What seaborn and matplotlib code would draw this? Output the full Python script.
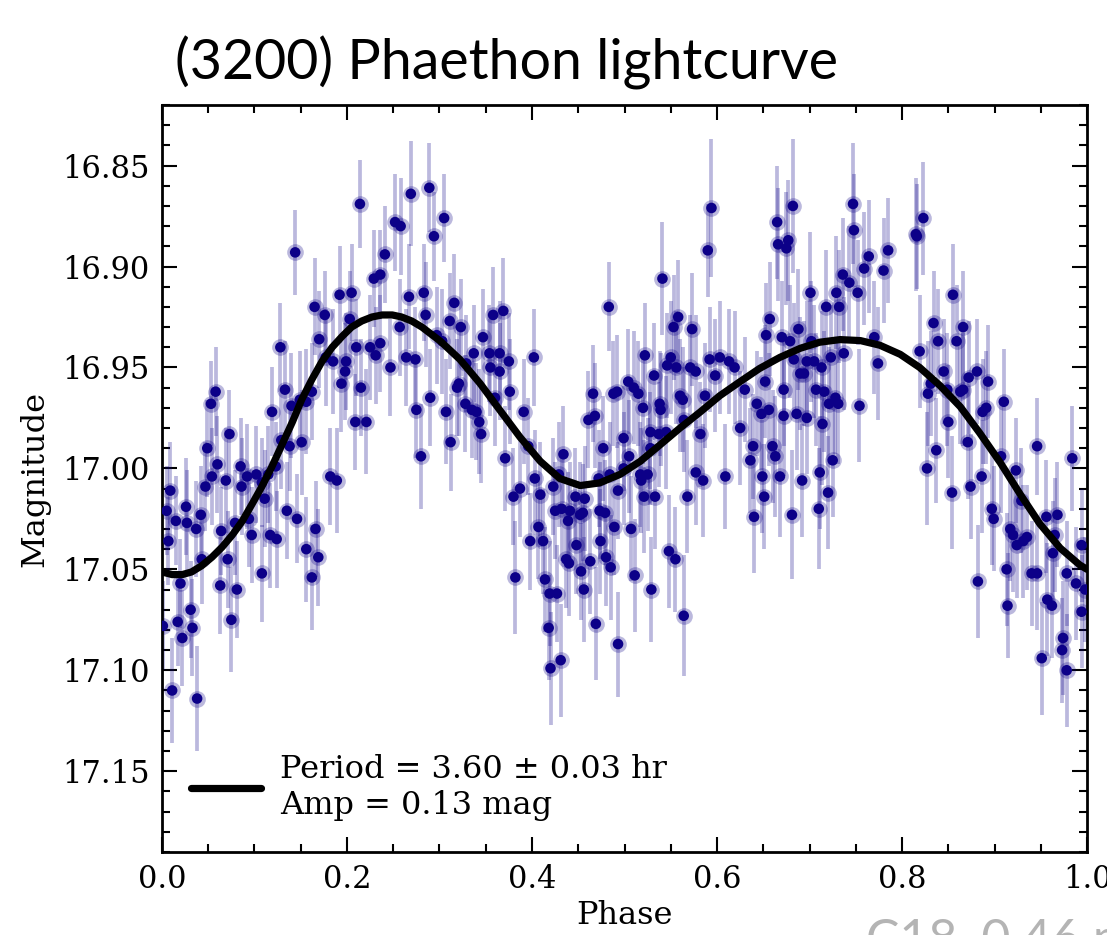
import numpy as np
import pandas as pd
import matplotlib
matplotlib.use("Agg")
import matplotlib.pyplot as plt
from matplotlib.ticker import MultipleLocator, FormatStrFormatter
from matplotlib.lines import Line2D
import seaborn as sns

# ---- observations: (phase, magnitude, error) ----
obs_a = [(0.144,16.893,0.021),(0.165,16.920,0.024),(0.170,16.936,0.024),(0.128,16.940,0.022),(0.133,16.961,0.024),(0.119,16.972,0.022),(0.140,16.969,0.026),(0.149,16.966,0.024),(0.156,16.967,0.026),(0.162,16.962,0.024),(0.058,16.962,0.022),(0.053,16.968,0.021),(0.073,16.983,0.022),(0.049,16.990,0.024),(0.129,16.986,0.024),(0.138,16.989,0.022),(0.151,16.987,0.026),(0.060,16.998,0.024),(0.054,17.004,0.024),(0.047,17.009,0.022),(0.069,17.006,0.026),(0.085,16.999,0.024),(0.086,17.009,0.024),(0.092,17.004,0.026),(0.102,17.003,0.024),(0.108,17.007,0.022),(0.115,17.003,0.024),(0.123,16.999,0.022),(0.111,17.015,0.024),(0.009,17.011,0.024),(0.005,17.021,0.022),(0.026,17.019,0.024),(0.015,17.026,0.022),(0.027,17.027,0.026),(0.037,17.030,0.024),(0.042,17.023,0.024),(0.007,17.036,0.022),(0.079,17.027,0.026),(0.094,17.025,0.024),(0.097,17.033,0.024),(0.064,17.031,0.022),(0.117,17.033,0.026),(0.124,17.035,0.024),(0.135,17.021,0.024),(0.146,17.025,0.022),(0.166,17.030,0.024),(0.156,17.040,0.026),(0.169,17.044,0.024),(0.043,17.045,0.022),(0.071,17.045,0.024),(0.108,17.052,0.024),(0.162,17.054,0.026),(0.020,17.057,0.022),(0.063,17.058,0.024),(0.081,17.060,0.024),(0.031,17.070,0.024),(0.017,17.076,0.022),(0.033,17.079,0.024),(0.022,17.084,0.024),(0.001,17.078,0.022),(0.075,17.075,0.026),(0.011,17.110,0.026),(0.038,17.114,0.026)]
obs_b = [(0.214,16.869,0.022),(0.269,16.864,0.026),(0.289,16.861,0.022),(0.305,16.876,0.022),(0.252,16.878,0.024),(0.258,16.880,0.024),(0.294,16.885,0.022),(0.241,16.894,0.024),(0.229,16.906,0.024),(0.236,16.904,0.022),(0.192,16.914,0.024),(0.205,16.913,0.024),(0.267,16.915,0.026),(0.283,16.913,0.024),(0.316,16.918,0.024),(0.176,16.924,0.022),(0.203,16.926,0.024),(0.285,16.924,0.026),(0.311,16.927,0.024),(0.323,16.930,0.024),(0.257,16.930,0.024),(0.210,16.940,0.024),(0.225,16.940,0.026),(0.236,16.938,0.024),(0.231,16.944,0.024),(0.177,16.945,0.024),(0.185,16.947,0.026),(0.199,16.947,0.024),(0.198,16.952,0.024),(0.264,16.945,0.024),(0.274,16.946,0.026),(0.247,16.950,0.024),(0.297,16.934,0.024),(0.303,16.937,0.026),(0.329,16.948,0.024),(0.194,16.958,0.024),(0.215,16.960,0.024),(0.319,16.960,0.024),(0.321,16.958,0.026),(0.290,16.965,0.024),(0.328,16.968,0.024),(0.275,16.971,0.024),(0.307,16.972,0.026),(0.209,16.977,0.024),(0.221,16.977,0.026),(0.312,16.987,0.024),(0.280,16.994,0.026),(0.182,17.004,0.024),(0.189,17.006,0.026)]
obs_c = [(0.483,16.920,0.022),(0.358,16.924,0.024),(0.369,16.922,0.026),(0.347,16.935,0.024),(0.337,16.943,0.024),(0.354,16.943,0.024),(0.365,16.943,0.026),(0.375,16.947,0.024),(0.402,16.945,0.024),(0.355,16.950,0.024),(0.365,16.952,0.024),(0.376,16.962,0.026),(0.360,16.965,0.024),(0.335,16.971,0.024),(0.340,16.972,0.024),(0.343,16.977,0.026),(0.345,16.983,0.024),(0.391,16.972,0.026),(0.466,16.963,0.024),(0.488,16.963,0.026),(0.461,16.976,0.024),(0.468,16.974,0.026),(0.396,16.989,0.024),(0.434,16.993,0.024),(0.477,16.990,0.026),(0.371,16.995,0.026),(0.403,17.005,0.024),(0.429,17.003,0.026),(0.423,17.009,0.024),(0.472,17.005,0.024),(0.484,17.003,0.026),(0.387,17.010,0.024),(0.380,17.014,0.024),(0.409,17.013,0.026),(0.447,17.014,0.024),(0.457,17.015,0.026),(0.493,17.011,0.024),(0.425,17.021,0.024),(0.432,17.020,0.026),(0.441,17.021,0.024),(0.439,17.026,0.024),(0.452,17.023,0.026),(0.455,17.022,0.024),(0.473,17.021,0.024),(0.479,17.022,0.026),(0.489,17.029,0.024),(0.407,17.029,0.026),(0.398,17.036,0.024),(0.412,17.036,0.026),(0.448,17.038,0.024),(0.474,17.036,0.026),(0.437,17.045,0.024),(0.440,17.047,0.026),(0.453,17.051,0.024),(0.463,17.046,0.026),(0.480,17.044,0.024),(0.485,17.049,0.026),(0.382,17.054,0.028),(0.414,17.055,0.026),(0.456,17.060,0.026),(0.419,17.062,0.026),(0.427,17.062,0.024),(0.418,17.079,0.026),(0.469,17.077,0.028),(0.493,17.087,0.026),(0.420,17.099,0.028),(0.431,17.095,0.028)]
obs_d = [(0.594,16.871,0.034),(0.590,16.892,0.023),(0.541,16.906,0.028),(0.558,16.925,0.028),(0.553,16.930,0.026),(0.573,16.931,0.028),(0.653,16.934,0.026),(0.657,16.926,0.028),(0.522,16.944,0.026),(0.550,16.945,0.028),(0.592,16.946,0.026),(0.603,16.945,0.028),(0.613,16.947,0.026),(0.619,16.950,0.028),(0.546,16.949,0.026),(0.556,16.950,0.028),(0.571,16.950,0.026),(0.577,16.952,0.028),(0.532,16.954,0.026),(0.598,16.954,0.028),(0.504,16.957,0.026),(0.510,16.960,0.028),(0.515,16.963,0.026),(0.492,16.962,0.028),(0.630,16.961,0.026),(0.652,16.957,0.028),(0.587,16.964,0.026),(0.560,16.964,0.028),(0.563,16.966,0.026),(0.520,16.970,0.028),(0.538,16.968,0.026),(0.539,16.971,0.028),(0.643,16.968,0.026),(0.648,16.973,0.028),(0.564,16.976,0.026),(0.528,16.982,0.028),(0.537,16.983,0.026),(0.545,16.982,0.028),(0.582,16.983,0.026),(0.625,16.980,0.028),(0.499,16.985,0.026),(0.528,16.990,0.028),(0.639,16.989,0.026),(0.505,16.994,0.028),(0.636,16.996,0.026),(0.499,17.000,0.028),(0.517,17.003,0.026),(0.525,17.003,0.028),(0.577,17.002,0.026),(0.585,17.006,0.028),(0.609,17.004,0.026),(0.649,17.004,0.028),(0.518,17.006,0.026),(0.521,17.014,0.028),(0.533,17.014,0.026),(0.568,17.014,0.028),(0.651,17.014,0.026),(0.640,17.024,0.028),(0.507,17.030,0.026),(0.548,17.041,0.028),(0.555,17.045,0.026),(0.511,17.053,0.028),(0.529,17.060,0.026),(0.564,17.073,0.030)]
obs_e = [(0.682,16.870,0.033),(0.747,16.869,0.030),(0.665,16.878,0.028),(0.748,16.882,0.028),(0.666,16.889,0.028),(0.677,16.887,0.030),(0.675,16.891,0.028),(0.815,16.884,0.028),(0.785,16.892,0.026),(0.764,16.895,0.028),(0.759,16.901,0.028),(0.780,16.902,0.026),(0.736,16.904,0.028),(0.743,16.908,0.028),(0.752,16.913,0.026),(0.729,16.913,0.028),(0.701,16.913,0.030),(0.718,16.920,0.028),(0.732,16.920,0.028),(0.688,16.931,0.030),(0.670,16.935,0.028),(0.679,16.937,0.028),(0.702,16.937,0.030),(0.770,16.935,0.028),(0.819,16.942,0.028),(0.737,16.943,0.028),(0.723,16.945,0.026),(0.683,16.946,0.028),(0.697,16.947,0.030),(0.705,16.947,0.028),(0.713,16.950,0.028),(0.690,16.953,0.028),(0.694,16.953,0.026),(0.774,16.948,0.028),(0.672,16.961,0.028),(0.707,16.961,0.028),(0.716,16.962,0.030),(0.728,16.965,0.028),(0.721,16.968,0.028),(0.731,16.968,0.030),(0.656,16.971,0.028),(0.672,16.974,0.030),(0.686,16.973,0.028),(0.697,16.975,0.028),(0.714,16.978,0.030),(0.754,16.969,0.028),(0.660,16.989,0.028),(0.663,16.994,0.030),(0.725,16.996,0.028),(0.711,17.002,0.028),(0.668,17.004,0.030),(0.692,17.006,0.028),(0.720,17.012,0.028),(0.710,17.020,0.030),(0.681,17.023,0.032)]
obs_f = [(0.823,16.876,0.028),(0.816,16.885,0.026),(0.855,16.914,0.025),(0.834,16.928,0.026),(0.866,16.930,0.028),(0.839,16.937,0.026),(0.859,16.937,0.028),(0.845,16.952,0.026),(0.872,16.955,0.028),(0.881,16.952,0.026),(0.893,16.957,0.028),(0.831,16.958,0.026),(0.849,16.961,0.028),(0.863,16.962,0.026),(0.866,16.961,0.028),(0.828,16.963,0.026),(0.910,16.967,0.026),(0.891,16.970,0.028),(0.887,16.972,0.026),(0.850,16.977,0.028),(0.871,16.987,0.028),(0.946,16.989,0.024),(0.837,16.991,0.026),(0.984,16.995,0.026),(0.907,16.994,0.028),(0.827,17.000,0.028),(0.923,17.001,0.026),(0.886,17.004,0.028),(0.874,17.009,0.026),(0.854,17.012,0.028),(0.929,17.016,0.026),(0.897,17.020,0.028),(0.899,17.025,0.026),(0.956,17.024,0.028),(0.968,17.023,0.026),(0.994,17.038,0.028),(0.917,17.030,0.026),(0.920,17.033,0.028),(0.935,17.034,0.026),(0.931,17.036,0.028),(0.924,17.038,0.026),(0.965,17.033,0.028),(0.963,17.042,0.026),(0.913,17.050,0.028),(0.940,17.052,0.026),(0.946,17.052,0.028),(0.978,17.052,0.026),(0.988,17.057,0.028),(0.998,17.060,0.026),(0.882,17.056,0.028),(0.914,17.068,0.026),(0.957,17.065,0.028),(0.962,17.068,0.026),(0.994,17.071,0.028),(0.974,17.084,0.028),(0.973,17.090,0.026),(0.951,17.094,0.028),(0.978,17.100,0.028)]

# ---- fitted lightcurve ----
curve_phase = [0.000,0.011,0.022,0.032,0.043,0.054,0.065,0.076,0.087,0.097,0.108,0.119,0.130,0.141,0.151,0.162,0.173,0.184,0.195,0.205,0.216,0.227,0.238,0.249,0.259,0.270,0.281,0.301,0.322,0.344,0.365,0.387,0.409,0.430,0.452,0.473,0.495,0.517,0.538,0.560,0.582,0.603,0.625,0.646,0.668,0.690,0.711,0.733,0.755,0.776,0.798,0.819,0.841,0.863,0.884,0.906,0.928,0.949,0.971,0.992,1.000]
curve_mag = [17.0513,17.0526,17.0526,17.0513,17.0482,17.0440,17.0390,17.0330,17.0260,17.0180,17.0090,16.9990,16.9880,16.9770,16.9660,16.9560,16.9470,16.9400,16.9345,16.9300,16.9270,16.9250,16.9240,16.9240,16.9250,16.9270,16.9300,16.9370,16.9460,16.9580,16.9710,16.9845,16.9965,17.0050,17.0085,17.0072,17.0030,16.9965,16.9885,16.9800,16.9720,16.9640,16.9570,16.9505,16.9450,16.9405,16.9375,16.9362,16.9367,16.9390,16.9435,16.9500,16.9590,16.9695,16.9825,16.9970,17.0130,17.0275,17.0395,17.0478,17.0500]

y_ticks = [16.85, 16.90, 16.95, 17.00, 17.05, 17.10, 17.15]
x_ticks = [0.0, 0.2, 0.4, 0.6, 0.8, 1.0]
title_text = "(3200) Phaethon lightcurve"
legend_text = "Period = 3.60 \u00b1 0.03 hr\nAmp = 0.13 mag"
watermark_text = "C18, 0.46 m"

obs = pd.DataFrame(obs_a + obs_b + obs_c + obs_d + obs_e + obs_f,
                   columns=["phase", "mag", "err"])
curve = pd.DataFrame({"phase": curve_phase, "mag": curve_mag})

sns.set_theme(style="ticks")
plt.rcParams["font.family"] = ["DejaVu Serif"]
plt.rcParams["mathtext.fontset"] = "dejavuserif"
for k in ["text.color", "axes.labelcolor", "xtick.color", "ytick.color",
          "axes.edgecolor"]:
    plt.rcParams[k] = "black"

fig = plt.figure(figsize=(11.07, 9.35), dpi=100)
ax = fig.add_axes([0.1463, 0.0888, 0.8357, 0.7989])

pt_col = "#0c0088"
ax.errorbar(obs["phase"], obs["mag"], yerr=obs["err"], fmt="o", color=pt_col,
            markersize=12, elinewidth=2.7, capsize=0, alpha=0.28,
            markeredgewidth=0, zorder=2)
sns.scatterplot(data=obs, x="phase", y="mag", ax=ax, color=pt_col, s=58,
                edgecolor="none", linewidth=0, zorder=3, legend=False)
sns.lineplot(data=curve, x="phase", y="mag", ax=ax, color="black",
             linewidth=5.2, sort=False, estimator=None, zorder=4)

ax.set_xlim(0.0, 1.0)
ax.set_ylim(17.19, 16.82)
ax.set_xticks(x_ticks)
ax.set_yticks(y_ticks)
ax.xaxis.set_major_formatter(FormatStrFormatter("%.1f"))
ax.yaxis.set_major_formatter(FormatStrFormatter("%.2f"))
ax.xaxis.set_minor_locator(MultipleLocator(0.05))
ax.yaxis.set_minor_locator(MultipleLocator(0.01))
ax.tick_params(which="both", direction="in", top=True, right=True,
               colors="black", width=1.5)
ax.tick_params(which="major", length=11, labelsize=22, pad=9)
ax.tick_params(which="minor", length=5.5)
for s in ax.spines.values():
    s.set_linewidth(2)
    s.set_color("black")

ax.set_xlabel("Phase", fontsize=23, labelpad=3)
ax.set_ylabel("Magnitude", fontsize=23, labelpad=8)

handle = Line2D([], [], color="black", linewidth=5.2)
ax.legend([handle], [legend_text], loc="lower left", frameon=False,
          fontsize=23, handlelength=2.2, handletextpad=0.6,
          borderaxespad=0.5, bbox_to_anchor=(0.0, 0.003))

fig.text(175 / 1107, 1 - 80 / 935, title_text, fontsize=40,
         family=["Lato", "DejaVu Sans"], fontweight="normal", color="black",
         ha="left", va="baseline")
fig.text(866 / 1107, -0.02, watermark_text, fontsize=36, color="#b4b4b4",
         family=["Lato", "DejaVu Sans"], fontweight="normal",
         ha="left", va="baseline")

fig.savefig("out.png", dpi=100)
